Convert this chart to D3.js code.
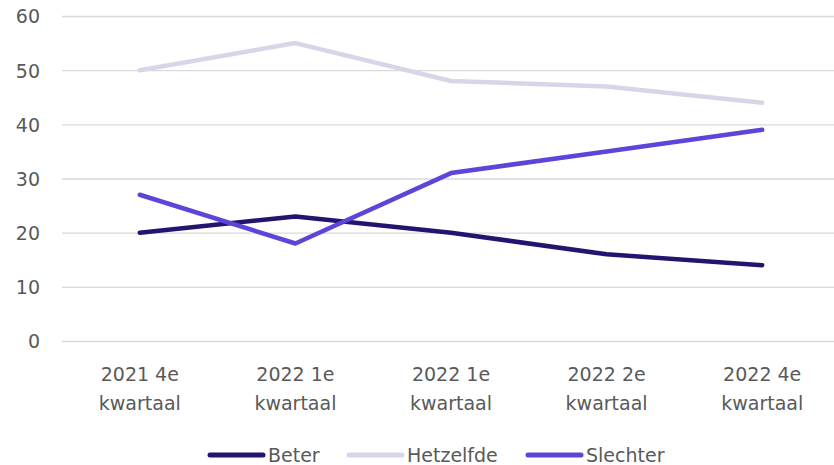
<!DOCTYPE html>
<html><head><meta charset="utf-8">
<script src="https://cdn.jsdelivr.net/npm/d3@7"></script>
<style>body{margin:0;background:#fff}svg{display:block}text{font-family:"DejaVu Sans",sans-serif;fill:#595959}</style>
</head><body><svg id="c" width="834" height="465"></svg>
<script>
const categories = [["2021 4e","kwartaal"],["2022 1e","kwartaal"],["2022 1e","kwartaal"],["2022 2e","kwartaal"],["2022 4e","kwartaal"]];
const seriesNames = ["Beter","Hetzelfde","Slechter"];
const beter = [20,23,20,16,14];
const hetzelfde = [50,55,48,47,44];
const slechter = [27,18,31,35,39];
const yTicks = [0,10,20,30,40,50,60];
const colors = ["#22156f","#d9d5e8","#5d45d9"];

const FONT = "'DejaVu Sans',sans-serif";
const svg = d3.select("#c");
const x = d3.scaleBand().domain(d3.range(categories.length)).range([62,840]);
const y = d3.scaleLinear().domain([0,60]).range([341,16]);

const gy = svg.append("g").attr("transform","translate(62,0)")
  .call(d3.axisLeft(y).tickValues(yTicks).tickSize(-772).tickPadding(22));
gy.select(".domain").remove();
gy.selectAll(".tick line").attr("stroke","#d9d9d9").attr("stroke-width",1.3);
gy.selectAll(".tick text").attr("font-size",19).attr("dy","0.36em").style("fill","#595959").attr("font-family",FONT);

const gx = svg.append("g").attr("transform","translate(0,341)")
  .call(d3.axisBottom(x).tickSize(0).tickFormat(""));
gx.select(".domain").remove();
gx.selectAll(".tick").each(function(d){
  const t = d3.select(this).append("text").attr("text-anchor","middle").attr("font-size",19)
    .attr("font-family",FONT).style("fill","#595959");
  categories[d].forEach((s,i)=>t.append("tspan").attr("x",0).attr("y",40+i*29).text(s));
});

const data = [beter,hetzelfde,slechter];
const line = d3.line().x((d,i)=>x(i)+x.bandwidth()/2).y(d=>y(d));
[1,0,2].forEach(k=>{
  svg.append("path").datum(data[k]).attr("d",line).attr("fill","none")
    .attr("stroke",colors[k]).attr("stroke-width",4.5).attr("stroke-linecap","round").attr("stroke-linejoin","round");
});

const legX = [210,349,528];
seriesNames.forEach((n,i)=>{
  svg.append("line").attr("x1",legX[i]).attr("x2",legX[i]+53).attr("y1",455).attr("y2",455)
    .attr("stroke",colors[i]).attr("stroke-width",5).attr("stroke-linecap","round");
  svg.append("text").attr("x",legX[i]+58).attr("y",462).attr("font-size",19).attr("font-family",FONT)
    .style("fill","#595959").text(n);
});
</script></body></html>
